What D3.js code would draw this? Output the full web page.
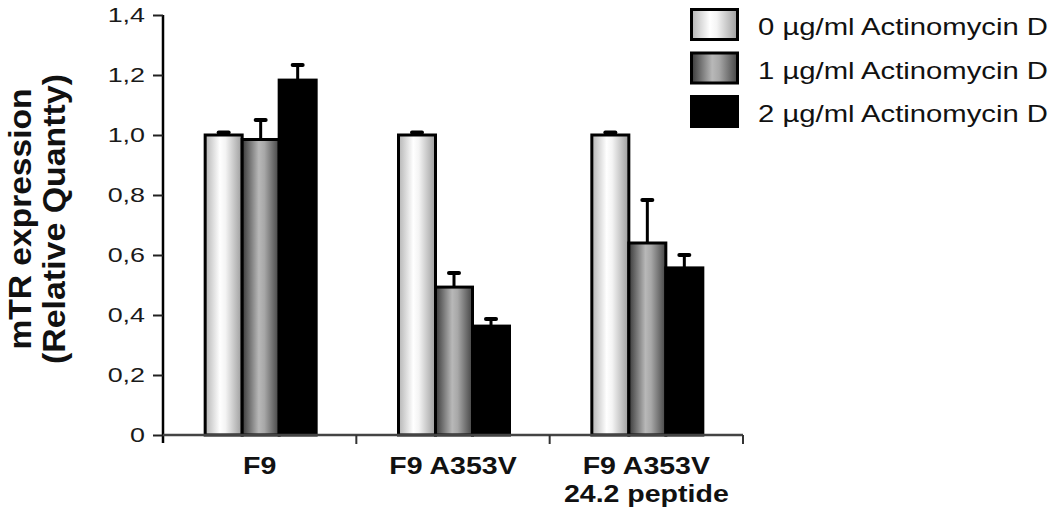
<!DOCTYPE html>
<html>
<head>
<meta charset="utf-8">
<script src="https://cdn.jsdelivr.net/npm/d3@7"></script>
<style>
  body { margin: 0; background: #fff; }
  svg { display: block; font-family: "Liberation Sans", Arial, sans-serif; }
</style>
</head>
<body>
<svg id="chart"></svg>
<script>
// data
const categories = [['F9'], ['F9 A353V'], ['F9 A353V', '24.2 peptide']];
const seriesNames = ['0 µg/ml Actinomycin D', '1 µg/ml Actinomycin D', '2 µg/ml Actinomycin D'];
const values0 = [1.0, 1.0, 1.0];
const values1 = [0.985, 0.493, 0.64];
const values2 = [1.183, 0.363, 0.557];
const errors0 = [0.008, 0.008, 0.008];
const errors1 = [0.065, 0.047, 0.143];
const errors2 = [0.05, 0.024, 0.043];
const tickValues = [0, 0.2, 0.4, 0.6, 0.8, 1.0, 1.2, 1.4];
const tickLabels = ['0', '0,2', '0,4', '0,6', '0,8', '1,0', '1,2', '1,4'];
const yTitle = ['mTR expression', '(Relative Quantty)'];

const width = 1050, height = 516;
const margin = {top: 15, right: 307, bottom: 81, left: 163};

const svg = d3.select('#chart')
    .attr('width', width)
    .attr('height', height);

// gradients for the two shaded series
const defs = svg.append('defs');
const grads = [
    {id: 'g0', stops: [[0, '#b4b4b4'], [0.4, '#ffffff'], [0.55, '#f4f4f4'], [1, '#9c9c9c']]},
    {id: 'g1', stops: [[0, '#3a3a3a'], [0.45, '#b8b8b8'], [0.6, '#a8a8a8'], [1, '#444444']]}
];
grads.forEach(g => {
    const lg = defs.append('linearGradient').attr('id', g.id)
        .attr('x1', '0%').attr('x2', '100%').attr('y1', '0%').attr('y2', '0%');
    g.stops.forEach(s => lg.append('stop').attr('offset', s[0]).attr('stop-color', s[1]));
});
const fills = ['url(#g0)', 'url(#g1)', '#000'];

// stretch text horizontally, the source figure is wider than normal glyphs
function stretch(sel, k) {
    sel.each(function() {
        const l = this.getComputedTextLength();
        d3.select(this).attr('textLength', l * k).attr('lengthAdjust', 'spacingAndGlyphs');
    });
}

const x = d3.scaleBand()
    .domain(d3.range(categories.length))
    .range([margin.left, width - margin.right]);

const groupWidth = 111;
const xSub = d3.scaleBand()
    .domain(d3.range(seriesNames.length))
    .range([0, groupWidth]);

const y = d3.scaleLinear()
    .domain([0, 1.4])
    .range([height - margin.bottom, margin.top]);

const rows = [];
[values0, values1, values2].forEach((vals, s) => {
    const errs = [errors0, errors1, errors2][s];
    vals.forEach((v, c) => rows.push({c, s, v, e: errs[c]}));
});

const barX = d => x(d.c) + (x.bandwidth() - groupWidth) / 2 + xSub(d.s) + 1;

// error bars (upper only)
const eg = svg.append('g').attr('stroke', '#000').attr('stroke-width', 3);
eg.selectAll('line.stem')
    .data(rows)
    .join('line')
        .attr('class', 'stem')
        .attr('x1', d => barX(d) + xSub.bandwidth() / 2)
        .attr('x2', d => barX(d) + xSub.bandwidth() / 2)
        .attr('y1', d => y(d.v))
        .attr('y2', d => y(d.v + d.e));
eg.selectAll('line.cap')
    .data(rows)
    .join('line')
        .attr('class', 'cap')
        .attr('x1', d => barX(d) + xSub.bandwidth() / 2 - 5)
        .attr('x2', d => barX(d) + xSub.bandwidth() / 2 + 5)
        .attr('y1', d => y(d.v + d.e))
        .attr('y2', d => y(d.v + d.e))
        .attr('stroke-width', 4)
        .attr('stroke-linecap', 'round');

// bars
svg.append('g')
    .selectAll('rect')
    .data(rows)
    .join('rect')
        .attr('x', barX)
        .attr('y', d => y(d.v))
        .attr('width', xSub.bandwidth())
        .attr('height', d => y(0) - y(d.v))
        .attr('fill', d => fills[d.s])
        .attr('stroke', '#000')
        .attr('stroke-width', 3);

// y axis
const yAxis = d3.axisLeft(y)
    .tickValues(tickValues)
    .tickFormat((d, i) => tickLabels[i])
    .tickSize(10)
    .tickPadding(8);
const yg = svg.append('g')
    .attr('transform', `translate(${margin.left},0)`)
    .call(yAxis);
yg.select('.domain').attr('stroke', '#000').attr('stroke-width', 2.5).attr('d', `M0,${y(1.4)}V${y(0) + 8}`);
yg.selectAll('.tick line').attr('stroke', '#222').attr('stroke-width', 2);
yg.selectAll('.tick text')
    .attr('font-size', 21)
    .attr('fill', '#1a1a1a')
    .attr('font-family', '"Liberation Sans", Arial, sans-serif')
    .call(stretch, 1.28);

// x axis with ticks at band edges
const xg = svg.append('g');
xg.append('line')
    .attr('x1', margin.left).attr('x2', width - margin.right)
    .attr('y1', y(0)).attr('y2', y(0))
    .attr('stroke', '#444').attr('stroke-width', 2.5);
xg.selectAll('line.tk')
    .data(d3.range(1, categories.length + 1))
    .join('line')
        .attr('class', 'tk')
        .attr('x1', d => x(d - 1) + x.bandwidth())
        .attr('x2', d => x(d - 1) + x.bandwidth())
        .attr('y1', y(0)).attr('y2', y(0) + 9)
        .attr('stroke', '#333').attr('stroke-width', 2);

const xl = xg.selectAll('text.cat')
    .data(categories)
    .join('text')
        .attr('class', 'cat')
        .attr('text-anchor', 'middle')
        .attr('font-size', 23)
        .attr('font-weight', 'bold')
        .attr('fill', '#111');
xl.selectAll('tspan')
    .data((d, i) => d.map((t, j) => ({t, i, j})))
    .join('tspan')
        .attr('x', d => x(d.i) + x.bandwidth() / 2)
        .attr('y', d => 474 + d.j * 28)
        .text(d => d.t)
        .call(stretch, 1.24);

// y title
svg.append('g')
    .selectAll('text')
    .data(yTitle)
    .join('text')
        .attr('transform', (d, i) => `translate(${31 + i * 34},${219}) rotate(-90)`)
        .attr('text-anchor', 'middle')
        .attr('font-size', 31)
        .attr('font-weight', 'bold')
        .attr('fill', '#111')
        .text(d => d)
        .attr('textLength', (d, i) => [261, 290][i])
        .attr('lengthAdjust', 'spacingAndGlyphs');

// legend
const lg = svg.append('g').attr('transform', 'translate(690,8)');
const li = lg.selectAll('g')
    .data(seriesNames)
    .join('g')
        .attr('transform', (d, i) => `translate(0,${i * 43.5})`);
li.append('rect')
    .attr('x', 1.5).attr('y', 1.5)
    .attr('width', 46).attr('height', 30)
    .attr('fill', (d, i) => fills[i])
    .attr('stroke', '#000')
    .attr('stroke-width', 3);
li.append('text')
    .attr('x', 68)
    .attr('y', 27)
    .attr('font-size', 24)
    .attr('fill', '#111')
    .text(d => d)
    .attr('textLength', 290)
    .attr('lengthAdjust', 'spacingAndGlyphs');
</script>
</body>
</html>
